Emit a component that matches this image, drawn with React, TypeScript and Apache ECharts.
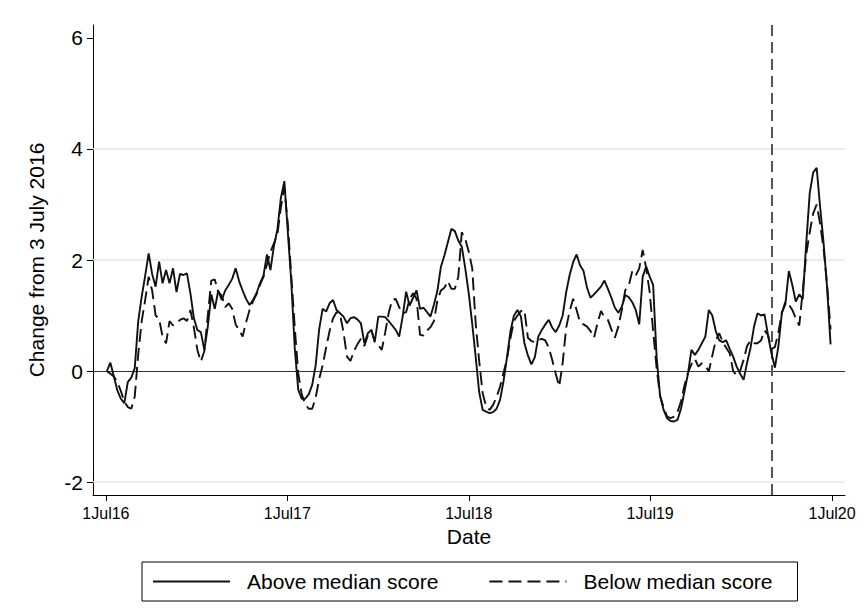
import React, { useEffect, useRef } from 'react';
import * as echarts from 'echarts';

// Weekly observations starting Sunday 3 July 2016
const startYear = 2016;
const startMonth = 6; // July (0-based)
const startDay = 3;

const seriesNames = ['Above median score', 'Below median score'];

const aboveMedian = [
  0.0, 0.15, -0.1, -0.35, -0.5, -0.58, -0.2, -0.12, 0.05, 0.9,
  1.34, 1.72, 2.12, 1.75, 1.52, 1.97, 1.58, 1.82, 1.58, 1.85,
  1.42, 1.75, 1.73, 1.76, 1.4, 0.95, 0.74, 0.7, 0.38, 0.8,
  1.38, 1.12, 1.45, 1.28, 1.45, 1.55, 1.66, 1.85, 1.62, 1.45,
  1.3, 1.19, 1.28, 1.4, 1.58, 1.72, 2.1, 1.82, 2.25, 2.55,
  3.12, 3.42, 2.5, 1.6, 0.4, -0.34, -0.5, -0.5, -0.42, -0.25,
  0.1, 0.75, 1.12, 1.07, 1.22, 1.28, 1.1, 1.04, 0.98, 0.86,
  0.95, 0.97, 0.93, 0.86, 0.5, 0.68, 0.74, 0.53, 0.98, 0.98,
  0.97, 0.9, 0.82, 0.74, 0.62, 0.98, 1.43, 1.18, 1.32, 1.45,
  1.12, 1.14, 1.06, 0.98, 1.2, 1.45, 1.88, 2.08, 2.32, 2.56,
  2.52, 2.35, 2.24, 1.85, 1.4, 0.85, 0.25, -0.38, -0.7, -0.73,
  -0.76, -0.74, -0.68, -0.52, -0.18, 0.25, 0.72, 1.0, 1.1, 0.98,
  0.5, 0.28, 0.12, 0.25, 0.62, 0.74, 0.84, 0.92, 0.78, 0.7,
  0.82, 1.0, 1.42, 1.73, 1.96, 2.1, 1.9, 1.8, 1.5, 1.32,
  1.38, 1.45, 1.52, 1.63, 1.48, 1.32, 1.14, 1.05, 1.16, 1.37,
  1.33, 1.24, 1.1, 0.84, 1.7, 1.88, 1.7, 1.55, 0.25, -0.45,
  -0.7, -0.85, -0.9, -0.91, -0.88, -0.68, -0.37, -0.05, 0.38, 0.29,
  0.38, 0.5, 0.62, 1.1, 1.0, 0.72, 0.55, 0.52, 0.55, 0.4,
  0.26, 0.08, -0.05, -0.16, 0.15, 0.42, 0.8, 1.04, 1.0, 1.02,
  0.65, 0.32, 0.06, 0.45, 1.05, 1.2, 1.8, 1.55, 1.25, 1.38,
  1.3, 2.3, 3.2, 3.58, 3.66, 2.95, 2.3, 1.5, 0.48,
];

const belowMedian = [
  0.0, -0.05, -0.1, -0.2, -0.36, -0.55, -0.65, -0.68, -0.46, 0.3,
  0.9, 1.28, 1.7, 1.45, 1.0, 0.94, 0.62, 0.5, 0.9, 0.82,
  0.87, 0.92, 0.95, 0.9, 1.1, 0.78, 0.38, 0.17, 0.36, 1.0,
  1.63, 1.65, 1.42, 1.36, 1.15, 1.22, 1.12, 0.84, 0.74, 0.62,
  0.88, 1.1, 1.26, 1.38, 1.55, 1.7, 1.92, 2.15, 2.3, 2.46,
  2.95, 3.3, 2.65, 1.7, 0.78, -0.05, -0.42, -0.6, -0.68, -0.68,
  -0.48, -0.15, 0.1, 0.42, 0.72, 0.95, 1.06, 1.02, 0.7, 0.26,
  0.18, 0.36, 0.48, 0.58, 0.45, 0.64, 0.74, 0.52, 0.47, 0.38,
  0.7, 1.05, 1.28, 1.3, 1.15, 1.04, 1.06, 1.3, 1.4, 1.3,
  0.65, 0.64, 0.73, 0.79, 0.9, 1.28, 1.45, 1.5, 1.62, 1.48,
  1.48, 1.7, 2.5, 2.38, 2.15, 1.85, 0.85, 0.18, -0.4, -0.64,
  -0.7, -0.61, -0.47, -0.28, -0.03, 0.22, 0.6, 0.9, 1.0, 1.08,
  1.1, 0.6, 0.54, 0.52, 0.56, 0.58, 0.55, 0.42, 0.2, -0.05,
  -0.28, 0.15, 0.78, 1.08, 1.3, 1.1, 0.87, 0.84, 0.8, 0.72,
  0.6, 0.86, 1.08, 0.97, 0.92, 0.75, 0.6, 0.8, 1.1, 1.46,
  1.54, 1.8, 1.72, 1.85, 2.18, 1.85, 1.42, 0.72, 0.05, -0.45,
  -0.65, -0.82, -0.85, -0.82, -0.74, -0.55, -0.26, -0.03, 0.12, 0.22,
  0.08, 0.14, 0.1, -0.01, 0.28, 0.55, 0.68, 0.52, 0.42, 0.32,
  0.0, -0.08, 0.0, 0.2, 0.45, 0.55, 0.5, 0.5, 0.55, 0.73,
  0.65, 0.4, 0.43, 0.7, 1.05, 1.25, 1.2, 1.1, 0.95, 0.82,
  1.45, 2.1, 2.5, 2.84, 3.0, 2.65, 2.2, 1.55, 0.75,
];

const yTicks = [-2, 0, 2, 4, 6];
const gridLevels = [-2, 2, 4];
const xTickDates = ['2016-07-01', '2017-07-01', '2018-07-01', '2019-07-01', '2020-07-01'];
const xTickLabels = ['1Jul16', '1Jul17', '1Jul18', '1Jul19', '1Jul20'];
const eventDate = '2020-03-01';
const xRange = ['2016-06-05', '2020-07-27'];
const yRange = [-2.234, 6.234];

const DAY = 86400000;
const ts = (s: string) => {
  const [y, m, d] = s.split('-').map(Number);
  return Date.UTC(y, m - 1, d);
};
const t0 = Date.UTC(startYear, startMonth, startDay);
const weekDates = aboveMedian.map((_, i) => t0 + i * 7 * DAY);

const FONT = '"Liberation Sans", Arial, Helvetica, sans-serif';

export default function App() {
  const ref = useRef<HTMLDivElement>(null);
  useEffect(() => {
    if (!ref.current) return;
    const chart = echarts.init(ref.current, undefined, { renderer: 'svg' });
    const xTickTs = xTickDates.map(ts);
    const option: any = {
      animation: false,
      backgroundColor: '#ffffff',
      textStyle: { fontFamily: FONT, color: '#000' },
      grid: { left: 93, right: 21, top: 25, bottom: 114, containLabel: false },
      legend: {
        left: 142,
        top: 562,
        padding: [9, 25, 9, 10],
        borderColor: '#000',
        borderWidth: 1,
        itemWidth: 77,
        itemHeight: 12,
        itemGap: 50,
        itemStyle: { opacity: 0 },
        textStyle: { fontSize: 21, color: '#000', fontFamily: FONT, padding: [0, 0, 0, 12] },
        data: seriesNames,
      },
      xAxis: {
        type: 'value',
        min: ts(xRange[0]),
        max: ts(xRange[1]),
        name: 'Date',
        nameLocation: 'middle',
        nameGap: 31,
        nameTextStyle: { fontSize: 21, color: '#000', fontFamily: FONT },
        axisLine: { show: true, onZero: false, lineStyle: { color: '#000', width: 1 } },
        axisTick: { show: true, length: 6, lineStyle: { color: '#000' }, customValues: xTickTs },
        axisLabel: {
          show: true,
          fontSize: 16,
          color: '#000',
          fontFamily: FONT,
          margin: 10,
          customValues: xTickTs,
          formatter: (v: number) => {
            const idx = xTickTs.indexOf(v);
            return idx >= 0 ? xTickLabels[idx] : '';
          },
        },
        splitLine: { show: false },
      },
      yAxis: {
        type: 'value',
        min: yRange[0],
        max: yRange[1],
        name: 'Change from 3 July 2016',
        nameLocation: 'middle',
        nameRotate: 90,
        nameGap: 46,
        nameTextStyle: { fontSize: 21, color: '#000', fontFamily: FONT },
        axisLine: { show: true, onZero: false, lineStyle: { color: '#000', width: 1 } },
        axisTick: { show: true, length: 6, lineStyle: { color: '#000' }, customValues: yTicks },
        axisLabel: {
          show: true,
          fontSize: 21,
          color: '#000',
          fontFamily: FONT,
          margin: 10,
          customValues: yTicks,
          formatter: (v: number) => String(Math.round(v)),
        },
        splitLine: { show: false },
      },
      series: [
        {
          name: seriesNames[0],
          type: 'line',
          symbol: 'none',
          showSymbol: false,
          z: 3,
          lineStyle: { color: '#111', width: 1.9, type: 'solid' },
          itemStyle: { color: '#111' },
          data: weekDates.map((d, i) => [d, aboveMedian[i]]),
          markLine: {
            silent: true,
            symbol: ['none', 'none'],
            label: { show: false },
            z: 1,
            data: [
              ...gridLevels.map((g) => ({ yAxis: g, lineStyle: { color: '#e6e6e6', width: 1.5, type: 'solid' } })),
              { yAxis: 0, lineStyle: { color: '#333', width: 1.2, type: 'solid' } },
              { xAxis: ts(eventDate), lineStyle: { color: '#555', width: 2, type: [11, 6] } },
            ],
          },
        },
        {
          name: seriesNames[1],
          type: 'line',
          symbol: 'none',
          showSymbol: false,
          z: 3,
          lineStyle: { color: '#111', width: 1.9, type: [13, 6] },
          itemStyle: { color: '#111' },
          data: weekDates.map((d, i) => [d, belowMedian[i]]),
        },
      ],
    };
    chart.setOption(option);
    return () => chart.dispose();
  }, []);
  return (
    <div
      ref={ref}
      style={{ position: 'fixed', left: 0, top: 0, width: 866, height: 609, background: '#fff' }}
    />
  );
}
